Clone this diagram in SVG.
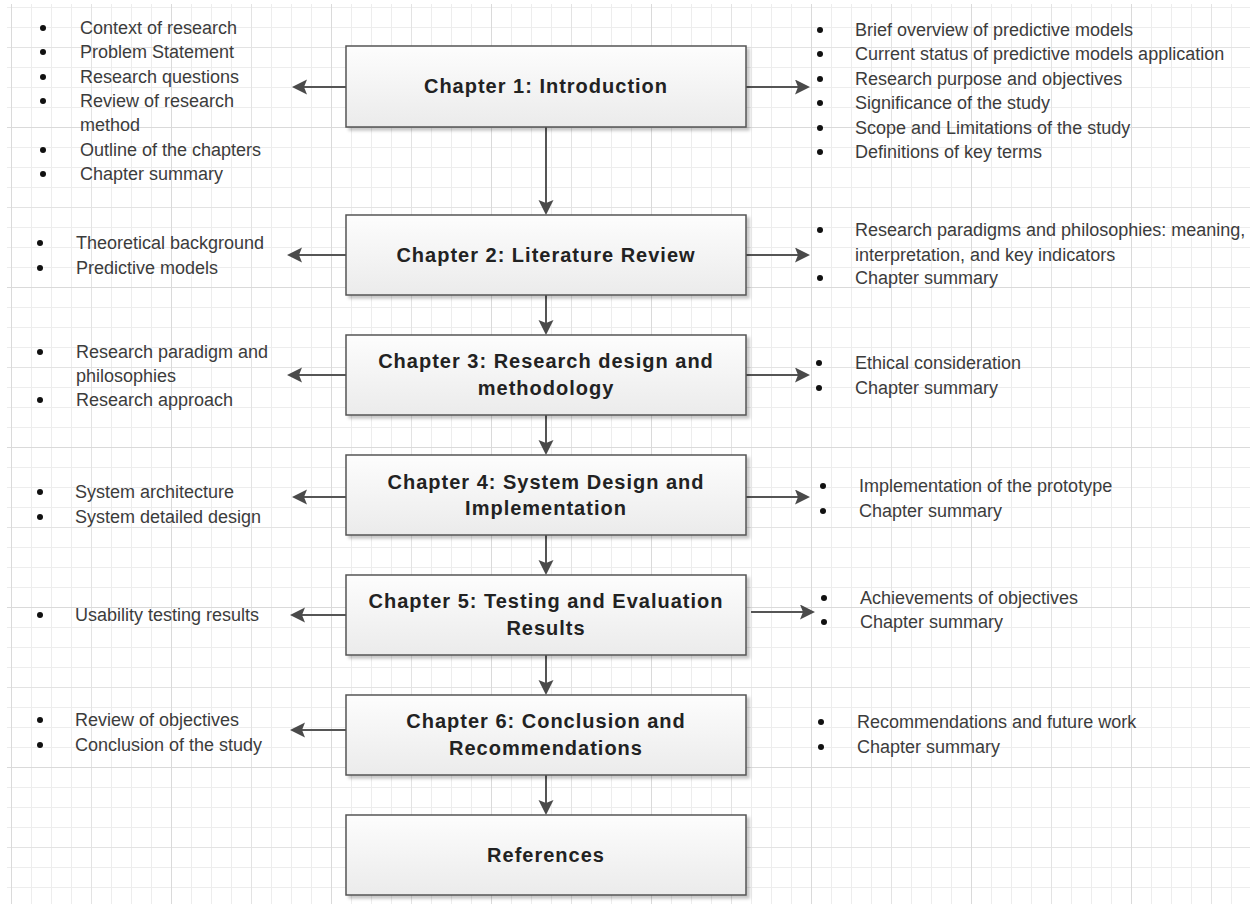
<svg xmlns="http://www.w3.org/2000/svg" width="1250" height="904" viewBox="0 0 1250 904">
<style>
.box{fill:url(#boxg);stroke:#555;stroke-width:1.5;filter:url(#sh)}
.title{font-family:"Liberation Sans",Arial,sans-serif;font-weight:bold;font-size:20px;letter-spacing:1px;fill:#222;text-anchor:middle}
.item{font-family:"Liberation Sans",Arial,sans-serif;font-size:18px;fill:#3c3c3c}
.dot{fill:#111}
.conn{stroke:#555;stroke-width:2;fill:none;marker-end:url(#ah)}
</style>
<defs>
<linearGradient id="boxg" x1="0" y1="0" x2="0" y2="1">
<stop offset="0" stop-color="#fdfdfd"/>
<stop offset="1" stop-color="#ebebeb"/>
</linearGradient>
<filter id="sh" x="-5%" y="-10%" width="115%" height="130%">
<feDropShadow dx="3" dy="3" stdDeviation="1.5" flood-color="#000" flood-opacity="0.22"/>
</filter>
<marker id="ah" markerUnits="userSpaceOnUse" markerWidth="16" markerHeight="16" refX="9" refY="7.5" orient="auto">
<path d="M0,0 L15,7.5 L0,15 L3,7.5 z" fill="#4a4a4a"/>
</marker>
<pattern id="g20" patternUnits="userSpaceOnUse" x="11" y="7" width="20" height="20">
<rect x="0" y="0" width="1" height="20" fill="#ededed"/>
<rect x="0" y="0" width="20" height="1" fill="#ededed"/>
</pattern>
<pattern id="g80" patternUnits="userSpaceOnUse" x="91" y="47" width="80" height="80">
<rect x="0" y="0" width="1" height="80" fill="#e3e3e3"/>
<rect x="0" y="0" width="80" height="1" fill="#e3e3e3"/>
</pattern>
<pattern id="g160" patternUnits="userSpaceOnUse" x="11" y="127" width="160" height="160">
<rect x="0" y="0" width="1" height="160" fill="#dadada"/>
<rect x="0" y="0" width="160" height="1" fill="#dadada"/>
</pattern>
</defs>
<rect x="0" y="0" width="1250" height="904" fill="#fff"/>
<g id="grid">
<rect x="7" y="4" width="1243" height="900" fill="url(#g20)"/>
<rect x="7" y="4" width="1243" height="900" fill="url(#g80)"/>
<rect x="7" y="4" width="1243" height="900" fill="url(#g160)"/>
</g>
<g id="connectors">
<path class="conn" d="M546,127 V209"/>
<path class="conn" d="M546,295 V329"/>
<path class="conn" d="M546,415 V449"/>
<path class="conn" d="M546,535 V569"/>
<path class="conn" d="M546,655 V689"/>
<path class="conn" d="M546,775 V809"/>
<path class="conn" d="M346,87 H298"/>
<path class="conn" d="M346,255 H293"/>
<path class="conn" d="M346,375 H293"/>
<path class="conn" d="M346,497 H298"/>
<path class="conn" d="M346,615 H296"/>
<path class="conn" d="M346,730 H296"/>
<path class="conn" d="M746,87 H804"/>
<path class="conn" d="M746,255 H804"/>
<path class="conn" d="M746,375 H804"/>
<path class="conn" d="M746,497 H804"/>
<path class="conn" d="M751,612 H809"/>
</g>
<g id="ch1">
<rect class="box" x="346" y="46" width="400" height="81"/>
<text class="title" x="546" y="93">Chapter 1: Introduction</text>
</g>
<g id="ch2">
<rect class="box" x="346" y="215" width="400" height="80"/>
<text class="title" x="546" y="262">Chapter 2: Literature Review</text>
</g>
<g id="ch3">
<rect class="box" x="346" y="335" width="400" height="80"/>
<text class="title" x="546" y="368">Chapter 3: Research design and</text>
<text class="title" x="546" y="395">methodology</text>
</g>
<g id="ch4">
<rect class="box" x="346" y="455" width="400" height="80"/>
<text class="title" x="546" y="489">Chapter 4: System Design and</text>
<text class="title" x="546" y="515">Implementation</text>
</g>
<g id="ch5">
<rect class="box" x="346" y="575" width="400" height="80"/>
<text class="title" x="546" y="608">Chapter 5: Testing and Evaluation</text>
<text class="title" x="546" y="635">Results</text>
</g>
<g id="ch6">
<rect class="box" x="346" y="695" width="400" height="80"/>
<text class="title" x="546" y="728">Chapter 6: Conclusion and</text>
<text class="title" x="546" y="755">Recommendations</text>
</g>
<g id="references">
<rect class="box" x="346" y="815" width="400" height="80"/>
<text class="title" x="546" y="862">References</text>
</g>
<g id="ch1-left">
<circle class="dot" cx="43" cy="28" r="3"/><text class="item" x="80" y="34">Context of research</text>
<circle class="dot" cx="43" cy="52" r="3"/><text class="item" x="80" y="58">Problem Statement</text>
<circle class="dot" cx="43" cy="77" r="3"/><text class="item" x="80" y="83">Research questions</text>
<circle class="dot" cx="43" cy="101" r="3"/><text class="item" x="80" y="107">Review of research</text>
<text class="item" x="80" y="131">method</text>
<circle class="dot" cx="43" cy="150" r="3"/><text class="item" x="80" y="156">Outline of the chapters</text>
<circle class="dot" cx="43" cy="174" r="3"/><text class="item" x="80" y="180">Chapter summary</text>
</g>
<g id="ch1-right">
<circle class="dot" cx="820" cy="30" r="3"/><text class="item" x="855" y="36">Brief overview of predictive models</text>
<circle class="dot" cx="820" cy="54" r="3"/><text class="item" x="855" y="60">Current status of predictive models application</text>
<circle class="dot" cx="820" cy="79" r="3"/><text class="item" x="855" y="85">Research purpose and objectives</text>
<circle class="dot" cx="820" cy="103" r="3"/><text class="item" x="855" y="109">Significance of the study</text>
<circle class="dot" cx="820" cy="128" r="3"/><text class="item" x="855" y="134">Scope and Limitations of the study</text>
<circle class="dot" cx="820" cy="152" r="3"/><text class="item" x="855" y="158">Definitions of key terms</text>
</g>
<g id="ch2-left">
<circle class="dot" cx="40" cy="243" r="3"/><text class="item" x="76" y="249">Theoretical background</text>
<circle class="dot" cx="40" cy="268" r="3"/><text class="item" x="76" y="274">Predictive models</text>
</g>
<g id="ch2-right">
<circle class="dot" cx="820" cy="230" r="3"/><text class="item" x="855" y="236">Research paradigms and philosophies: meaning,</text>
<text class="item" x="855" y="261">interpretation, and key indicators</text>
<circle class="dot" cx="820" cy="278" r="3"/><text class="item" x="855" y="284">Chapter summary</text>
</g>
<g id="ch3-left">
<circle class="dot" cx="40" cy="352" r="3"/><text class="item" x="76" y="358">Research paradigm and</text>
<text class="item" x="76" y="382">philosophies</text>
<circle class="dot" cx="40" cy="400" r="3"/><text class="item" x="76" y="406">Research approach</text>
</g>
<g id="ch3-right">
<circle class="dot" cx="819" cy="363" r="3"/><text class="item" x="855" y="369">Ethical consideration</text>
<circle class="dot" cx="819" cy="388" r="3"/><text class="item" x="855" y="394">Chapter summary</text>
</g>
<g id="ch4-left">
<circle class="dot" cx="40" cy="492" r="3"/><text class="item" x="75" y="498">System architecture</text>
<circle class="dot" cx="40" cy="517" r="3"/><text class="item" x="75" y="523">System detailed design</text>
</g>
<g id="ch4-right">
<circle class="dot" cx="823" cy="486" r="3"/><text class="item" x="859" y="492">Implementation of the prototype</text>
<circle class="dot" cx="823" cy="511" r="3"/><text class="item" x="859" y="517">Chapter summary</text>
</g>
<g id="ch5-left">
<circle class="dot" cx="40" cy="615" r="3"/><text class="item" x="75" y="621">Usability testing results</text>
</g>
<g id="ch5-right">
<circle class="dot" cx="824" cy="598" r="3"/><text class="item" x="860" y="604">Achievements of objectives</text>
<circle class="dot" cx="824" cy="622" r="3"/><text class="item" x="860" y="628">Chapter summary</text>
</g>
<g id="ch6-left">
<circle class="dot" cx="40" cy="720" r="3"/><text class="item" x="75" y="726">Review of objectives</text>
<circle class="dot" cx="40" cy="745" r="3"/><text class="item" x="75" y="751">Conclusion of the study</text>
</g>
<g id="ch6-right">
<circle class="dot" cx="821" cy="722" r="3"/><text class="item" x="857" y="728">Recommendations and future work</text>
<circle class="dot" cx="821" cy="747" r="3"/><text class="item" x="857" y="753">Chapter summary</text>
</g>
</svg>
